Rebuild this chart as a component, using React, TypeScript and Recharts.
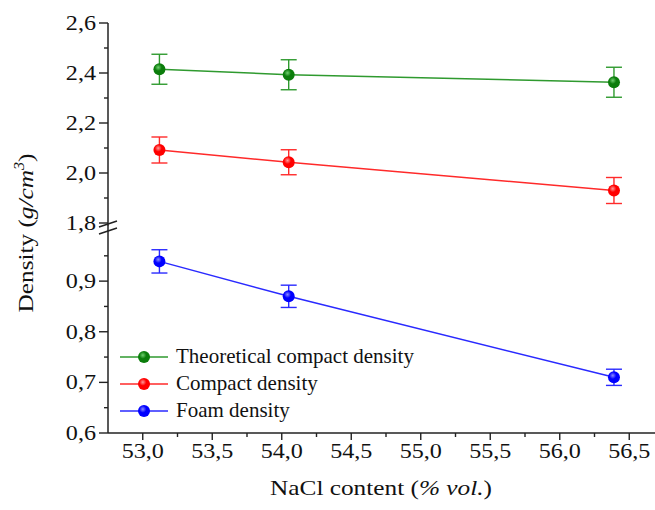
import React from 'react';
import { LineChart, Line, XAxis, YAxis, ErrorBar } from 'recharts';

// NaCl content (% vol.)
const nacl = [53.12, 54.05, 56.39];

// densities (g/cm3) and error bars
const theoretical = [2.415, 2.393, 2.363];
const theoreticalErr = [0.06, 0.06, 0.06];
const compact = [2.092, 2.043, 1.93];
const compactErr = [0.052, 0.05, 0.052];
const foam = [0.939, 0.87, 0.71];
const foamErr = [0.023, 0.022, 0.016];

const xTicks = [53, 53.25, 53.5, 53.75, 54, 54.25, 54.5, 54.75, 55, 55.25, 55.5, 55.75, 56, 56.25, 56.5];
const xMajor = [53, 53.5, 54, 54.5, 55, 55.5, 56, 56.5];
const yTicksUpper = [1.8, 1.9, 2.0, 2.1, 2.2, 2.3, 2.4, 2.5, 2.6];
const yMajorUpper = [1.8, 2.0, 2.2, 2.4, 2.6];
const yTicksLower = [0.6, 0.65, 0.7, 0.75, 0.8, 0.85, 0.9, 0.95];
const yMajorLower = [0.6, 0.7, 0.8, 0.9];

const series = [
  { name: 'Theoretical compact density', line: '#2f9a2f', dot: '#0b7d0b', hi: '#6fcf6f' },
  { name: 'Compact density', line: '#ff2a2a', dot: '#ff0000', hi: '#ff9a9a' },
  { name: 'Foam density', line: '#2a2aff', dot: '#0000ff', hi: '#8a8aff' },
];

const toRows = (ys: number[], errs: number[]) =>
  nacl.map((x, i) => ({ x, y: ys[i], err: errs[i] }));

const FONT = 'Liberation Serif';
const AXIS = '#222';
const INK = '#111';
const STRETCH = 1.15; // the source figure's lettering is a bit wide
const X_DOMAIN: [number, number] = [52.75, 56.75];

const isIn = (list: number[], v: number) => list.some((m) => Math.abs(m - v) < 1e-6);
const fmt = (v: number) => v.toFixed(1).replace('.', ',');

const XTick = ({ x, y, payload }: any) => {
  const major = isIn(xMajor, payload.value);
  return (
    <g>
      <line x1={x} x2={x} y1={y} y2={y + (major ? 7 : 4)} stroke={AXIS} strokeWidth={1.4} />
      {major && (
        <text
          transform={`translate(${x},${y + 25}) scale(${STRETCH},1)`}
          textAnchor="middle"
          fontFamily={FONT}
          fontSize={21}
          fill={INK}
        >
          {fmt(payload.value)}
        </text>
      )}
    </g>
  );
};

const makeYTick = (majors: number[]) => ({ x, y, payload }: any) => {
  const major = isIn(majors, payload.value);
  return (
    <g>
      <line x1={x - (major ? 9 : 4)} x2={x} y1={y} y2={y} stroke={AXIS} strokeWidth={1.4} />
      {major && (
        <text
          transform={`translate(${x - 12},${y + 7}) scale(${STRETCH},1)`}
          textAnchor="end"
          fontFamily={FONT}
          fontSize={21}
          fill={INK}
        >
          {fmt(payload.value)}
        </text>
      )}
    </g>
  );
};

const BallDefs = () => (
  <defs>
    {series.map((s, i) => (
      <radialGradient key={i} id={`ball${i}`} cx="40%" cy="35%" r="65%">
        <stop offset="0%" stopColor={s.hi} />
        <stop offset="45%" stopColor={s.dot} />
        <stop offset="100%" stopColor={s.dot} />
      </radialGradient>
    ))}
  </defs>
);

const renderSeries = (rows: any[], idx: number) => (
  <Line
    key={idx}
    data={rows}
    dataKey="y"
    name={series[idx].name}
    type="linear"
    stroke={series[idx].line}
    strokeWidth={1.5}
    isAnimationActive={false}
    dot={(p: any) => <circle key={`d${idx}-${p.index}`} cx={p.cx} cy={p.cy} r={6} fill={`url(#ball${idx})`} />}
    activeDot={false}
  >
    <ErrorBar dataKey="err" width={8} stroke={series[idx].line} strokeWidth={1.4} direction="y" />
  </Line>
);

const LegendBox = () => (
  <div
    style={{
      position: 'absolute',
      left: 120,
      top: 343,
      fontFamily: FONT,
      fontSize: 21,
      color: INK,
      lineHeight: '27px',
    }}
  >
    {series.map((s, i) => (
      <div key={i} style={{ display: 'flex', alignItems: 'center', height: 27 }}>
        <svg width={56} height={16}>
          <line x1={0} x2={48} y1={8} y2={8} stroke={s.line} strokeWidth={1.5} />
          <circle cx={24} cy={8} r={6} fill={`url(#ball${i})`} />
        </svg>
        <span>{s.name}</span>
      </div>
    ))}
  </div>
);

export default function App() {
  return (
    <div
      style={{
        position: 'fixed',
        left: 0,
        top: 0,
        width: 655,
        height: 510,
        overflow: 'hidden',
        background: '#fff',
        fontFamily: FONT,
      }}
    >
      {/* upper segment of the broken axis */}
      <div style={{ position: 'absolute', left: 0, top: 0 }}>
        <LineChart width={680} height={240} margin={{ top: 23, right: 16, bottom: 14.5, left: 0 }}>
          <BallDefs />
          <XAxis
            type="number"
            dataKey="x"
            orientation="top"
            domain={X_DOMAIN}
            allowDataOverflow
            height={0}
            tick={false}
            tickLine={false}
            axisLine={{ stroke: AXIS, strokeWidth: 1.5 }}
          />
          <YAxis
            type="number"
            width={108}
            domain={[1.79, 2.6]}
            allowDataOverflow
            ticks={yTicksUpper}
            interval={0}
            tickSize={0}
            tickMargin={0}
            tickLine={false}
            tick={makeYTick(yMajorUpper)}
            axisLine={{ stroke: AXIS, strokeWidth: 1.5 }}
          />
          {renderSeries(toRows(theoretical, theoreticalErr), 0)}
          {renderSeries(toRows(compact, compactErr), 1)}
        </LineChart>
      </div>

      {/* lower segment */}
      <div style={{ position: 'absolute', left: 0, top: 0 }}>
        <LineChart width={680} height={510} margin={{ top: 230.5, right: 16, bottom: 0, left: 0 }}>
          <BallDefs />
          <XAxis
            type="number"
            dataKey="x"
            domain={X_DOMAIN}
            allowDataOverflow
            height={77}
            ticks={xTicks}
            interval={0}
            tickSize={0}
            tickMargin={0}
            tickLine={false}
            tick={XTick}
            axisLine={{ stroke: AXIS, strokeWidth: 1.5 }}
          />
          <YAxis
            type="number"
            width={108}
            domain={[0.6, 1.0]}
            allowDataOverflow
            ticks={yTicksLower}
            interval={0}
            tickSize={0}
            tickMargin={0}
            tickLine={false}
            tick={makeYTick(yMajorLower)}
            axisLine={{ stroke: AXIS, strokeWidth: 1.5 }}
          />
          {renderSeries(toRows(foam, foamErr), 2)}
        </LineChart>
      </div>

      <LegendBox />

      {/* titles and axis break marks */}
      <svg width={655} height={510} style={{ position: 'absolute', left: 0, top: 0, pointerEvents: 'none' }}>
        <line x1={108} x2={108} y1={225} y2={231} stroke={AXIS} strokeWidth={1.5} />
        <line x1={99} x2={117} y1={227} y2={221} stroke={AXIS} strokeWidth={1.4} />
        <line x1={99} x2={117} y1={234} y2={228} stroke={AXIS} strokeWidth={1.4} />
        <text
          transform={`translate(33,233) rotate(-90) scale(${STRETCH},1)`}
          textAnchor="middle"
          fontFamily={FONT}
          fontSize={22}
          fill={INK}
        >
          Density (<tspan fontStyle="italic">g/cm</tspan>
          <tspan fontStyle="italic" fontSize={14} dy={-9}>3</tspan>
          <tspan dy={9}>)</tspan>
        </text>
        <text
          transform={`translate(381,495) scale(${STRETCH},1)`}
          textAnchor="middle"
          fontFamily={FONT}
          fontSize={22}
          fill={INK}
        >
          NaCl content (<tspan fontStyle="italic">% vol.</tspan>)
        </text>
      </svg>
    </div>
  );
}
